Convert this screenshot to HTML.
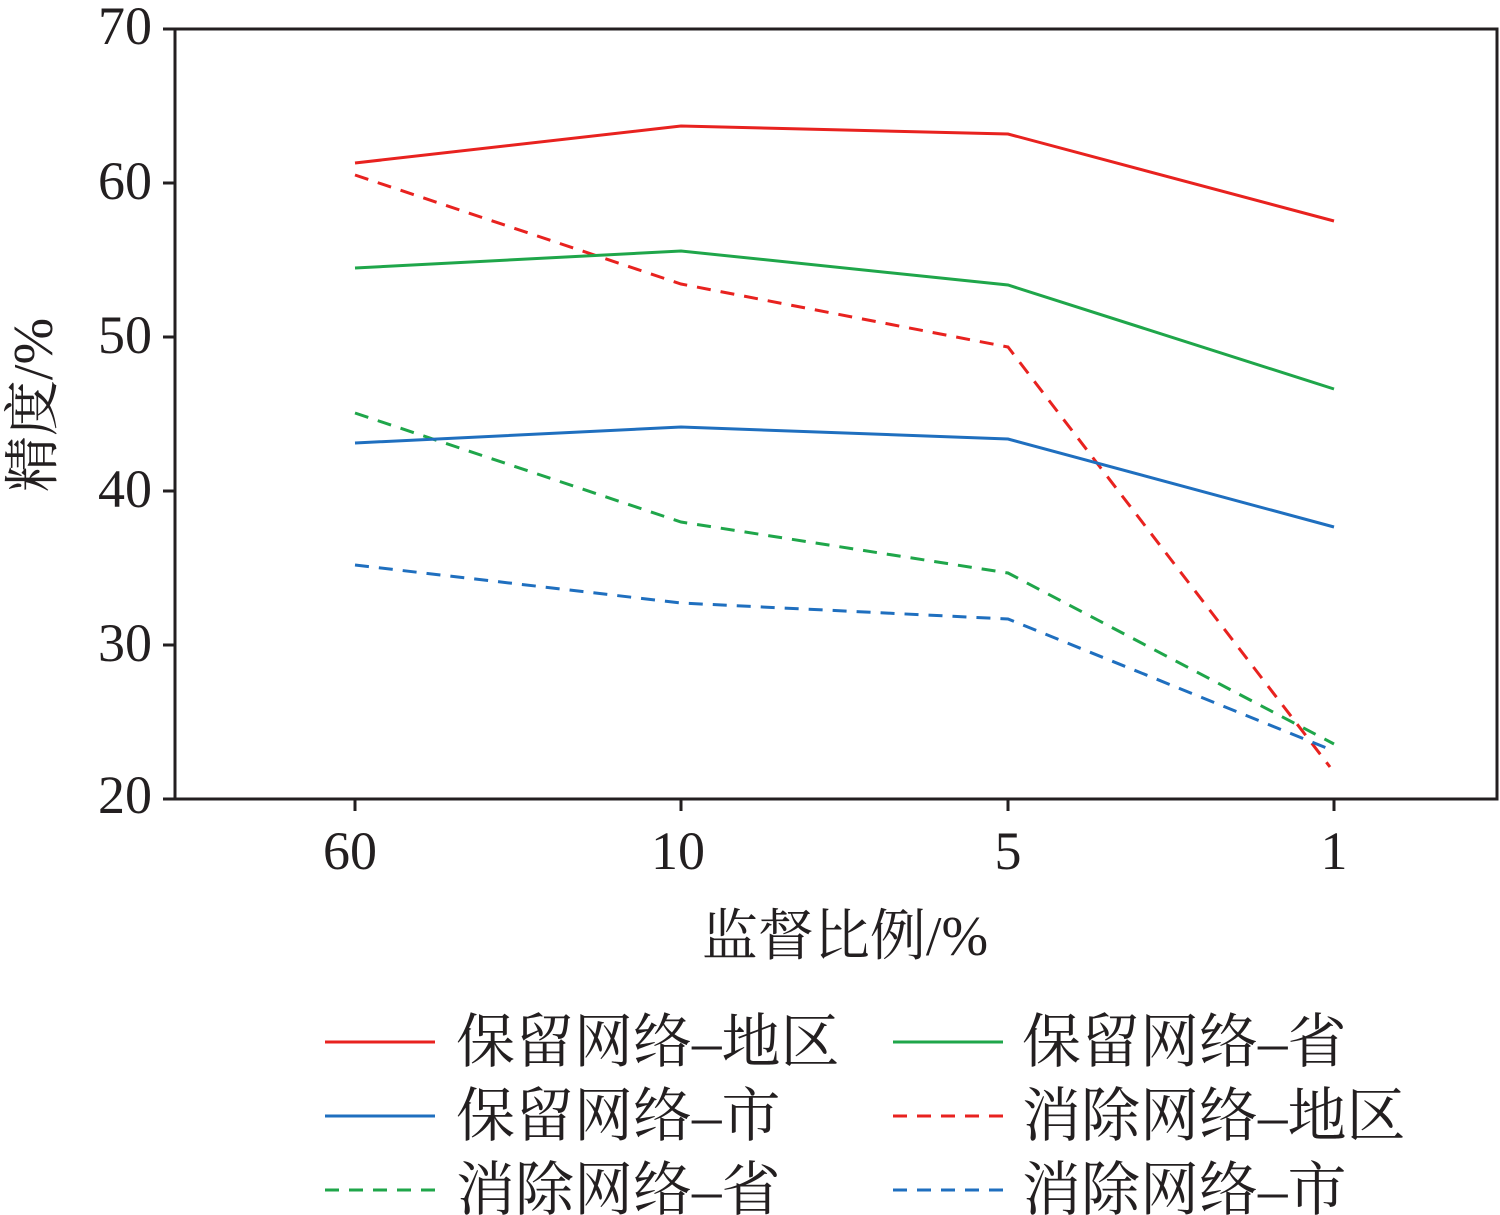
<!DOCTYPE html>
<html><head><meta charset="utf-8"><style>
html,body{margin:0;padding:0;background:#fff;}
svg{display:block;}
text{font-family:"Liberation Serif","Noto Serif CJK SC",serif;fill:#231f20;}
</style></head><body>
<svg width="1500" height="1215" viewBox="0 0 1500 1215" xmlns="http://www.w3.org/2000/svg">
<g stroke="#231f20" stroke-width="3" fill="none">
<rect x="175" y="29" width="1322" height="770"/>
<line x1="163" y1="29" x2="175" y2="29"/>
<line x1="163" y1="183" x2="175" y2="183"/>
<line x1="163" y1="337" x2="175" y2="337"/>
<line x1="163" y1="491" x2="175" y2="491"/>
<line x1="163" y1="645" x2="175" y2="645"/>
<line x1="163" y1="799" x2="175" y2="799"/>
<line x1="355" y1="799" x2="355" y2="811"/>
<line x1="681" y1="799" x2="681" y2="811"/>
<line x1="1008" y1="799" x2="1008" y2="811"/>
<line x1="1334" y1="799" x2="1334" y2="811"/>
</g>
<g font-size="54" text-anchor="end">
<text x="152" y="44">70</text>
<text x="152" y="199">60</text>
<text x="152" y="353">50</text>
<text x="152" y="507">40</text>
<text x="152" y="661">30</text>
<text x="152" y="813">20</text>
</g>
<g font-size="54" text-anchor="middle">
<text x="350" y="869">60</text>
<text x="678" y="869">10</text>
<text x="1008" y="869">5</text>
<text x="1334" y="869">1</text>
</g>
<text x="845" y="955" font-size="56" text-anchor="middle">监督比例/%</text>
<text transform="translate(52,405) rotate(-90)" font-size="56" text-anchor="middle">精度/%</text>
<g fill="none" stroke-width="3">
<polyline stroke="#e8221f" points="355,163 681,126 1008,134 1334,221"/>
<polyline stroke="#e8221f" stroke-dasharray="14,10" points="355,175 681,284 1008,347 1330,767"/>
<polyline stroke="#1fa64a" points="355,268 681,251 1008,285 1334,389"/>
<polyline stroke="#1fa64a" stroke-dasharray="14,10" points="355,413 681,522 1008,573 1334,744"/>
<polyline stroke="#1f6fbf" points="355,443 681,427 1008,439 1334,527"/>
<polyline stroke="#1f6fbf" stroke-dasharray="14,10" points="355,565 681,603 1008,619 1334,751"/>
</g>
<g fill="none" stroke-width="3">
<line x1="325" y1="1042" x2="435" y2="1042" stroke="#e8221f"/>
<line x1="893" y1="1042" x2="1003" y2="1042" stroke="#1fa64a"/>
<line x1="325" y1="1116" x2="435" y2="1116" stroke="#1f6fbf"/>
<line x1="893" y1="1116" x2="1003" y2="1116" stroke="#e8221f" stroke-dasharray="14,10"/>
<line x1="325" y1="1190" x2="435" y2="1190" stroke="#1fa64a" stroke-dasharray="14,10"/>
<line x1="893" y1="1190" x2="1003" y2="1190" stroke="#1f6fbf" stroke-dasharray="14,10"/>
</g>
<g font-size="59">
<text x="456" y="1062">保留网络–地区</text>
<text x="1022" y="1062">保留网络–省</text>
<text x="456" y="1136">保留网络–市</text>
<text x="1022" y="1136">消除网络–地区</text>
<text x="456" y="1210">消除网络–省</text>
<text x="1022" y="1210">消除网络–市</text>
</g>
</svg>
</body></html>
